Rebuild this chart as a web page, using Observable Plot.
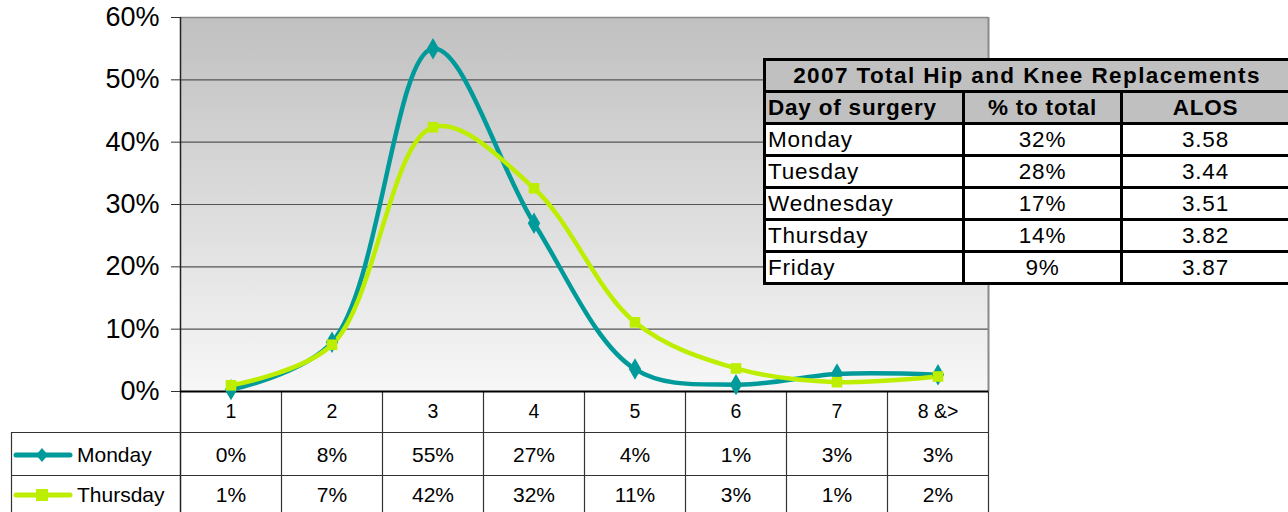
<!DOCTYPE html>
<html>
<head>
<meta charset="utf-8">
<script src="https://cdn.jsdelivr.net/npm/d3@7"></script>
<script src="https://cdn.jsdelivr.net/npm/@observablehq/plot@0.6"></script>
<style>
  html, body { margin: 0; padding: 0; background: #fff; }
  body { width: 1288px; height: 512px; overflow: hidden; font-family: "Liberation Sans", Arial, sans-serif; }
  #wrap { position: relative; width: 1288px; height: 512px; }
  #info { position: absolute; left: 763px; top: 58px; width: 525px; border-collapse: collapse; font-size: 22.5px; letter-spacing: 0.8px; color: #000; table-layout: fixed; }
  #info td { border: 3px solid #000; height: 29px; padding: 0 2px; line-height: 26px; background: #fff; text-align: center; white-space: nowrap; overflow: hidden; }
  #info td.l { text-align: left; }
  #info tr.h td { background: #c0c0c0; font-weight: bold; }
  #info tr.t td { letter-spacing: 1.4px; }
  .leg { position: absolute; left: 13px; display: flex; align-items: center; font-size: 21px; color: #000; }
  .leg svg { margin-right: 4px; }
</style>
</head>
<body>
<div id="wrap"></div>
<script>
// ---- data ----
const categories = ["1", "2", "3", "4", "5", "6", "7", "8 &>"];
const mondayValues = [0.003, 0.079, 0.55, 0.27, 0.036, 0.011, 0.028, 0.027];
const thursdayValues = [0.01, 0.075, 0.424, 0.326, 0.111, 0.037, 0.015, 0.024];
const mondayLabels = ["0%", "8%", "55%", "27%", "4%", "1%", "3%", "3%"];
const thursdayLabels = ["1%", "7%", "42%", "32%", "11%", "3%", "1%", "2%"];
const seriesNames = ["Monday", "Thursday"];
const seriesColors = ["#009a9a", "#bdee00"];
const yTicks = [0, 0.1, 0.2, 0.3, 0.4, 0.5, 0.6];

const infoTitle = "2007 Total Hip and Knee Replacements";
const infoHeaders = ["Day of surgery", "% to total", "ALOS"];
const infoDays = ["Monday", "Tuesday", "Wednesday", "Thursday", "Friday"];
const infoPct = ["32%", "28%", "17%", "14%", "9%"];
const infoAlos = ["3.58", "3.44", "3.51", "3.82", "3.87"];

// ---- build table rows for Plot ----
const idx = categories.map((c, i) => i + 1);
const rows = [];
categories.forEach((c, i) => {
  rows.push({series: "Monday", x: i + 1, value: mondayValues[i], label: mondayLabels[i]});
  rows.push({series: "Thursday", x: i + 1, value: thursdayValues[i], label: thursdayLabels[i]});
});
const boundaries = idx.map(i => i + 0.5);

const W = 1288, H = 512;
const mTop = 17, mBottom = 121, mLeft = 180, mRight = 300;
const plotH = H - mTop - mBottom;

const chart = Plot.plot({
  width: W, height: H,
  marginTop: mTop, marginBottom: mBottom, marginLeft: mLeft, marginRight: mRight,
  style: {fontFamily: "'Liberation Sans', Arial, sans-serif", background: "white", color: "#000"},
  x: {domain: [0.5, categories.length + 0.5], axis: null},
  y: {domain: [0, 0.6], axis: null},
  color: {domain: seriesNames, range: seriesColors},
  marks: [
    Plot.frame({fill: "url(#bgGrad)", stroke: "none"}),
    Plot.ruleY(yTicks.slice(1, -1), {stroke: "#555", strokeWidth: 1.2}),
    Plot.ruleY([0.6], {stroke: "#8a8a8a", strokeWidth: 1.5}),
    Plot.ruleX([categories.length + 0.5], {stroke: "#8a8a8a", strokeWidth: 2}),
    // data table grid lines below the plot
    Plot.ruleX(boundaries, {stroke: "#333", strokeWidth: 1.2, insetTop: plotH, insetBottom: -mBottom}),
    Plot.ruleX([0.5], {stroke: "#222", strokeWidth: 1.5, insetBottom: -mBottom}),
    Plot.ruleX([0.5], {stroke: "#333", strokeWidth: 1.2, dx: -169, insetTop: plotH + 41, insetBottom: -mBottom}),
    Plot.ruleY([0], {stroke: "#333", strokeWidth: 1.2, dy: 41, insetLeft: -169}),
    Plot.ruleY([0], {stroke: "#333", strokeWidth: 1.2, dy: 84, insetLeft: -169}),
    Plot.ruleY([0], {stroke: "#000", strokeWidth: 2}),
    Plot.axisY({ticks: yTicks, tickFormat: d3.format(".0%"), label: null, tickSize: 9, tickPadding: 12, fontSize: 27, stroke: "#333", fill: "#000", style: "letter-spacing:1px"}),
    // series
    Plot.line(rows, {x: "x", y: "value", z: "series", stroke: "series", strokeWidth: 4.5, curve: "catmull-rom", strokeLinejoin: "round"}),
    Plot.dot(rows.filter(d => d.series === "Monday"), {x: "x", y: "value", symbol: "diamond", r: 6.5, fill: seriesColors[0]}),
    Plot.dot(rows.filter(d => d.series === "Thursday"), {x: "x", y: "value", symbol: "square", r: 6, fill: seriesColors[1]}),
    // category labels and values
    Plot.text(categories, {x: (d, i) => i + 1, text: d => d, frameAnchor: "bottom", lineAnchor: "middle", dy: 20, fontSize: 19.5, fill: "#000"}),
    Plot.text(rows.filter(d => d.series === "Monday"), {x: "x", text: "label", frameAnchor: "bottom", lineAnchor: "middle", dy: 64, fontSize: 21, fill: "#000"}),
    Plot.text(rows.filter(d => d.series === "Thursday"), {x: "x", text: "label", frameAnchor: "bottom", lineAnchor: "middle", dy: 104, fontSize: 21, fill: "#000"})
  ]
});

// gradient background definition
const defs = d3.select(chart).insert("defs", ":first-child");
const grad = defs.append("linearGradient").attr("id", "bgGrad").attr("x1", 0).attr("y1", 0).attr("x2", 0).attr("y2", 1);
grad.append("stop").attr("offset", "0%").attr("stop-color", "#c0c0c0");
grad.append("stop").attr("offset", "100%").attr("stop-color", "#f7f7f7");

const wrap = document.getElementById("wrap");
wrap.appendChild(chart);

// legend keys in the data table
const legTops = [457, 497];
seriesNames.forEach((name, i) => {
  const div = document.createElement("div");
  div.className = "leg";
  div.style.top = (legTops[i] - 14) + "px";
  const sym = i === 0
    ? `<path d="M29,3 L35,10 L29,17 L23,10 Z" fill="${seriesColors[i]}"/>`
    : `<rect x="23" y="4" width="12" height="12" fill="${seriesColors[i]}"/>`;
  div.innerHTML = `<svg width="60" height="20"><line x1="3" y1="10" x2="57" y2="10" stroke="${seriesColors[i]}" stroke-width="5" stroke-linecap="round"/>${sym}</svg><span>${name}</span>`;
  wrap.appendChild(div);
});

// info table
const tbl = document.createElement("table");
tbl.id = "info";
let html = `<colgroup><col style="width:199px"><col style="width:158px"><col style="width:168px"></colgroup>`;
html += `<tr class="h t"><td colspan="3">${infoTitle}</td></tr>`;
html += `<tr class="h"><td class="l">${infoHeaders[0]}</td><td>${infoHeaders[1]}</td><td>${infoHeaders[2]}</td></tr>`;
infoDays.forEach((d, i) => {
  html += `<tr><td class="l">${d}</td><td>${infoPct[i]}</td><td>${infoAlos[i]}</td></tr>`;
});
tbl.innerHTML = html;
wrap.appendChild(tbl);
</script>
</body>
</html>
